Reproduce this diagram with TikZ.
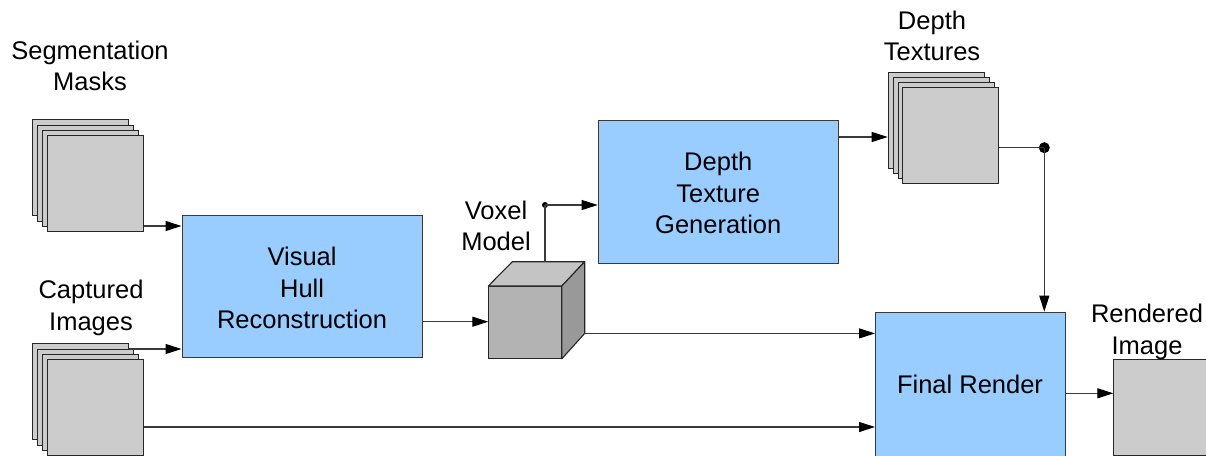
\documentclass[tikz,border=0pt]{standalone}
\usepackage{fontspec}
\setmainfont{Liberation Sans}
\usetikzlibrary{arrows.meta,calc}
\definecolor{procfill}{HTML}{99CCFF}
\definecolor{sheetfill}{HTML}{CCCCCC}
\definecolor{edgegray}{HTML}{3A3A3A}
\definecolor{cubefront}{HTML}{B3B3B3}
\definecolor{cubetop}{HTML}{C4C4C4}
\definecolor{cubeside}{HTML}{999999}
\tikzset{
  px/.style={x=1pt,y=-1pt},
  txt/.style={font=\fontsize{25.5}{31.5}\selectfont,align=center,inner sep=0pt},
  procbox/.style={draw=edgegray,line width=1.1pt,fill=procfill,anchor=north west,
    inner sep=0pt,font=\fontsize{25.5}{31.5}\selectfont,align=center},
  sheet/.style={draw=black!85,line width=1.1pt,fill=sheetfill,anchor=north west,
    minimum width=96pt,minimum height=96pt,inner sep=0pt},
  link/.style={draw=edgegray,line width=1.1pt},
  arr/.style={link,-{Triangle[length=16pt,width=10pt,color=black,fill=black]}},
  joint/.style={circle,fill=black,inner sep=0pt}
}
\begin{document}
\begin{tikzpicture}[px]
\useasboundingbox (0,0) rectangle (1206,455);

% segmentation mask stack
\node[sheet] (segA) at (31.7,119.3) {};
\node[sheet] (segB) at (36.7,124.6) {};
\node[sheet] (segC) at (41.7,130) {};
\node[sheet] (segD) at (46.7,135.3) {};
\node[txt] (seglbl) at (90,66) {Segmentation\\Masks};

% captured image stack
\node[sheet] (capA) at (31.7,343.3) {};
\node[sheet] (capB) at (36.7,348.6) {};
\node[sheet] (capC) at (41.7,354) {};
\node[sheet] (capD) at (46.7,359.3) {};
\node[txt] (caplbl) at (91,308) {Captured\\Images};

% processing stages
\node[procbox,minimum width=240pt,minimum height=142pt] (vh) at (181.5,215) {};
\node[txt] at ($(vh.center)+(0,1.5)$) {Visual\\Hull\\Reconstruction};
\node[procbox,minimum width=240pt,minimum height=143pt] (dtg) at (597.7,120) {};
\node[txt] at ($(dtg.center)+(0,1)$) {Depth\\Texture\\Generation};
\node[procbox,minimum width=190pt,minimum height=160pt] (fr) at (875,311.7) {};
\node[txt] at (970,384) {Final Render};

% voxel cube
\node[draw=black!85,line width=1.1pt,fill=cubefront,anchor=north west,
  minimum width=72.4pt,minimum height=71.7pt,inner sep=0pt] (cube) at (488.3,286) {};
\filldraw[draw=black!85,line width=1.1pt,fill=cubetop,line join=round]
  (cube.north west) -- ++(24,-24.3) -- ++(72.4,0) coordinate (cubeback) -- (cube.north east) -- cycle;
\filldraw[draw=black!85,line width=1.1pt,fill=cubeside,line join=round]
  (cube.north east) -- (cubeback) -- ++(0,71.7) coordinate (cubebackbot) -- (cube.south east) -- cycle;
\coordinate (cubetopmid) at (545,261.7);
\node[txt] (voxlbl) at (496,226) {Voxel\\Model};

% depth texture stack
\node[sheet] (dtA) at (887.7,71.7) {};
\node[sheet] (dtB) at (892.6,76.9) {};
\node[sheet] (dtC) at (897.5,82.1) {};
\node[sheet] (dtD) at (902.3,87.3) {};
\node[txt] (dtlbl) at (932,36) {Depth\\Textures};

% rendered output
\node[sheet] (out) at (1113.3,359.3) {};
\node[txt] (outlbl) at (1147,332) {Rendered\\Image};

% junction points
\node[joint,minimum size=6pt] (j1) at (545,205) {};
\node[joint,minimum size=11pt] (j2) at (1044.3,147.7) {};

% connectors
\draw[arr] (segD.east |- 0,226) -- (vh.west |- 0,226);
\draw[arr] (capA.east |- 0,349) -- (vh.west |- 0,349);
\draw[arr] (capD.east |- 0,427) -- (fr.west |- 0,427);
\draw[arr] (vh.east |- 0,321.7) -- (cube.west |- 0,321.7);
\draw[link] (cubetopmid) -- (j1.center);
\draw[arr] (j1.center) -- (dtg.west |- j1);
\draw[arr] (cubebackbot) -- (fr.west |- cubebackbot);
\draw[arr] (dtg.east |- 0,137) -- (dtA.west |- 0,137);
\draw[link] (dtD.east |- j2) -- (j2.center);
\draw[arr] (j2.center) -- (fr.north -| j2);
\draw[arr] (fr.east |- 0,393.3) -- (out.west |- 0,393.3);
\end{tikzpicture}
\end{document}
